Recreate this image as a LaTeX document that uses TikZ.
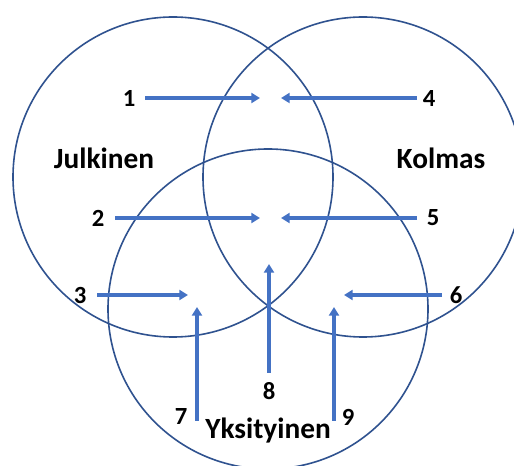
\documentclass[tikz,border=0pt]{standalone}
\usepackage{fontspec}
\setmainfont{Carlito}
\usetikzlibrary{arrows.meta}
\definecolor{ringc}{HTML}{2F528F}
\definecolor{arrc}{HTML}{4472C4}
\begin{document}
\begin{tikzpicture}[x=0.75pt,y=-0.75pt,
  ring/.style={draw=ringc,line width=1.2pt,circle,minimum size=240pt,inner sep=0pt},
  arr/.style={draw=arrc,line width=2.3pt,-{Triangle[width=7.5pt,length=6.5pt]}},
  num/.style={font=\bfseries\fontsize{18.5}{20}\selectfont,inner sep=0pt},
  big/.style={font=\bfseries\fontsize{22}{26}\selectfont,inner sep=0pt}]
\useasboundingbox (0,0) rectangle (514,466);
\begin{scope}
\clip (0,0) rectangle (514,466);
\node[ring] (cl) at (173,177) {};
\node[ring] (cr) at (363,177) {};
\node[ring] (cb) at (268,309) {};
\end{scope}
\node[big] (jul) at (104,158) {Julkinen};
\node[big] (kol) at (441,158) {Kolmas};
\node[big] (yks) at (268,431) {Yksityinen};
\node[num] (n1) at (129,98) {1};
\node[num] (n2) at (98,218) {2};
\node[num] (n3) at (80,295) {3};
\node[num] (n4) at (429,99) {4};
\node[num] (n5) at (433,218) {5};
\node[num] (n6) at (456,295) {6};
\node[num] (n7) at (181,417) {7};
\node[num] (n8) at (269,391) {8};
\node[num] (n9) at (348,417) {9};
\coordinate (s1) at (145,98); \coordinate (t1) at (260,98);
\coordinate (s4) at (417,98); \coordinate (t4) at (281,98);
\coordinate (s2) at (115,218); \coordinate (t2) at (260,218);
\coordinate (s5) at (417,218); \coordinate (t5) at (281,218);
\coordinate (s3) at (97,295); \coordinate (t3) at (188,295);
\coordinate (s6) at (442,295); \coordinate (t6) at (344,295);
\coordinate (s7) at (197,421); \coordinate (t7) at (197,307);
\coordinate (s8) at (269,373); \coordinate (t8) at (269,264);
\coordinate (s9) at (334,421); \coordinate (t9) at (334,307);
\foreach \i in {1,...,9} {\draw[arr] (s\i) -- (t\i);}
\end{tikzpicture}
\end{document}
